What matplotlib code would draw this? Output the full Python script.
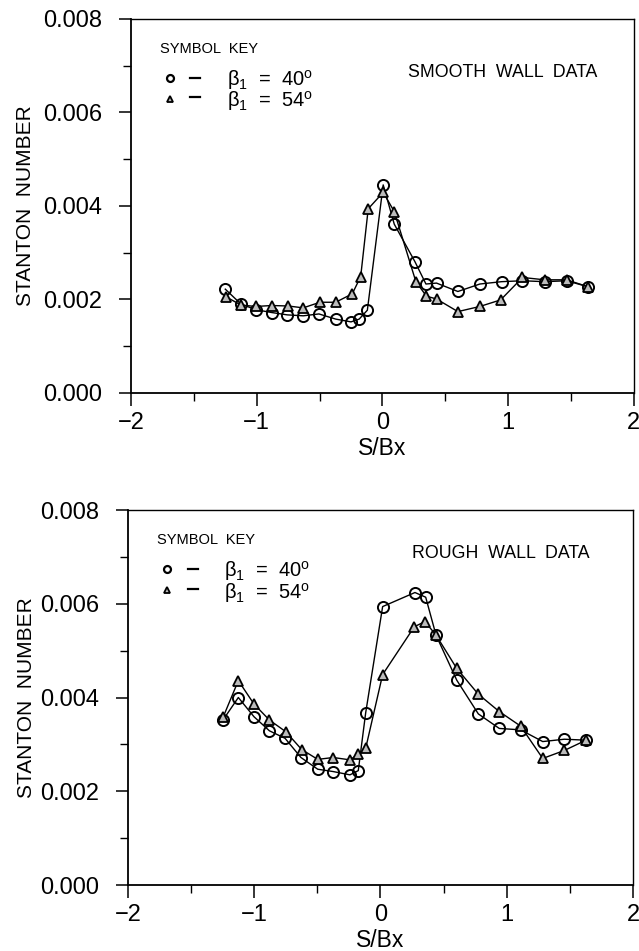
import matplotlib
matplotlib.use("Agg")
import matplotlib.pyplot as plt
from matplotlib.ticker import MultipleLocator, FormatStrFormatter

plt.rcParams['font.family'] = ['Liberation Sans', 'DejaVu Sans']
plt.rcParams['mathtext.fontset'] = 'custom'
plt.rcParams['mathtext.rm'] = 'Liberation Sans'
plt.rcParams['mathtext.it'] = 'Liberation Sans:italic'

# ---- Smooth wall data ----
smooth_s40 = [-1.25, -1.125, -1.006, -0.88, -0.757, -0.63, -0.505, -0.372, -0.25, -0.185, -0.12,
              0.006, 0.094, 0.258, 0.346, 0.43, 0.60, 0.775, 0.947, 1.114, 1.29, 1.465, 1.637]
smooth_st40 = [0.00222, 0.00190, 0.00178, 0.00172, 0.00167, 0.00165, 0.00169, 0.00158, 0.00152, 0.00158, 0.00177,
               0.00445, 0.00361, 0.00281, 0.00233, 0.00235, 0.00217, 0.00233, 0.00238, 0.00240, 0.00238, 0.00240, 0.00227]
smooth_s54 = [-1.247, -1.125, -1.006, -0.88, -0.75, -0.63, -0.497, -0.372, -0.24, -0.173, -0.113,
              0.006, 0.094, 0.266, 0.35, 0.43, 0.60, 0.775, 0.94, 1.114, 1.29, 1.465, 1.637]
smooth_st54 = [0.00206, 0.00188, 0.00185, 0.00187, 0.00186, 0.00182, 0.00194, 0.00194, 0.00212, 0.00249, 0.00394,
               0.00429, 0.00388, 0.00238, 0.00207, 0.00201, 0.00174, 0.00185, 0.00199, 0.00247, 0.00242, 0.00242, 0.00227]

# ---- Rough wall data ----
rough_s40 = [-1.245, -1.126, -1.002, -0.88, -0.756, -0.63, -0.497, -0.374, -0.242, -0.176, -0.117,
             0.017, 0.273, 0.358, 0.44, 0.604, 0.775, 0.941, 1.11, 1.285, 1.456, 1.628]
rough_st40 = [0.00353, 0.00400, 0.00359, 0.00329, 0.00313, 0.00272, 0.00247, 0.00242, 0.00235, 0.00244, 0.00368,
              0.00594, 0.00624, 0.00614, 0.00533, 0.00437, 0.00365, 0.00334, 0.00331, 0.00306, 0.00311, 0.00309]
rough_s54 = [-1.245, -1.126, -1.002, -0.88, -0.75, -0.624, -0.497, -0.374, -0.242, -0.176, -0.117,
             0.017, 0.268, 0.352, 0.44, 0.604, 0.775, 0.941, 1.11, 1.285, 1.456, 1.628]
rough_st54 = [0.00359, 0.00436, 0.00386, 0.00352, 0.00327, 0.00289, 0.00268, 0.00272, 0.00267, 0.00279, 0.00292,
              0.00449, 0.00551, 0.00562, 0.00533, 0.00462, 0.00407, 0.00370, 0.00339, 0.00270, 0.00287, 0.00309]

panel_titles = ["SMOOTH  WALL  DATA", "ROUGH  WALL  DATA"]
x_ticks = [-2, -1, 0, 1, 2]
x_ticklabels = ["\u22122", "\u22121", "0", "1", "2"]
y_ticks = [0.000, 0.002, 0.004, 0.006, 0.008]

fig = plt.figure(figsize=(6.39, 9.51), dpi=100)
ax1 = fig.add_axes([0.205, 0.5868, 0.787, 0.3933])
ax2 = fig.add_axes([0.2003, 0.0694, 0.7903, 0.3943])

panels = [
    (ax1, smooth_s40, smooth_st40, smooth_s54, smooth_st54, panel_titles[0], (0.55, 0.856)),
    (ax2, rough_s40, rough_st40, rough_s54, rough_st54, panel_titles[1], (0.562, 0.885)),
]

for ax, s40, st40, s54, st54, title, tpos in panels:
    ax.plot(s40, st40, color='black', lw=1.0, marker='o', ms=8, mfc='none', mec='black', mew=1.4)
    ax.plot(s54, st54, color='black', lw=1.0, marker='^', ms=6.5, mfc='#bbbbbb', mec='black', mew=1.3)
    ax.set_xlim(-2, 2)
    ax.set_ylim(0, 0.008)
    ax.set_xticks(x_ticks)
    ax.set_xticklabels(x_ticklabels)
    ax.set_yticks(y_ticks)
    ax.yaxis.set_major_formatter(FormatStrFormatter('%.3f'))
    ax.xaxis.set_minor_locator(MultipleLocator(0.5))
    ax.yaxis.set_minor_locator(MultipleLocator(0.001))
    ax.tick_params(axis='both', which='major', direction='out', length=9, width=1.1,
                   labelsize=17, top=False, right=False)
    ax.tick_params(axis='y', which='major', pad=12)
    ax.tick_params(axis='x', which='major', pad=5)
    ax.tick_params(axis='both', which='minor', direction='out', length=6, width=1.0,
                   top=False, right=False)
    for sp in ['left', 'bottom']:
        ax.spines[sp].set_linewidth(1.3)
    for sp in ['top', 'right']:
        ax.spines[sp].set_linewidth(1.0)
    ax.set_xlabel("S/Bx", fontsize=16.5, labelpad=2)
    ax.set_ylabel("STANTON  NUMBER", fontsize=15)
    ax.text(tpos[0], tpos[1], title, transform=ax.transAxes, fontsize=12.8, ha='left', va='center')
    # symbol key
    ax.text(0.058, 0.92, "SYMBOL  KEY", transform=ax.transAxes, fontsize=10.5, ha='left', va='center')
    ax.plot([0.077], [0.842], transform=ax.transAxes, marker='o', ms=5, mfc='none', mec='black', mew=1.6,
            clip_on=False)
    ax.plot([0.077], [0.787], transform=ax.transAxes, marker='^', ms=5, mfc='#bbbbbb', mec='black', mew=1.3,
            clip_on=False)
    ax.plot([0.118, 0.138], [0.842, 0.842], transform=ax.transAxes, color='black', lw=1.6)
    ax.plot([0.118, 0.138], [0.79, 0.79], transform=ax.transAxes, color='black', lw=1.6)
    ax.text(0.19, 0.838, r"β$_1$  =  40$^\mathrm{o}$", transform=ax.transAxes, fontsize=14.5,
            ha='left', va='center')
    ax.text(0.19, 0.78, r"β$_1$  =  54$^\mathrm{o}$", transform=ax.transAxes, fontsize=14.5,
            ha='left', va='center')

ax1.yaxis.set_label_coords(-0.19, 0.5)
ax2.yaxis.set_label_coords(-0.183, 0.5)

fig.savefig("out.png", dpi=100)
